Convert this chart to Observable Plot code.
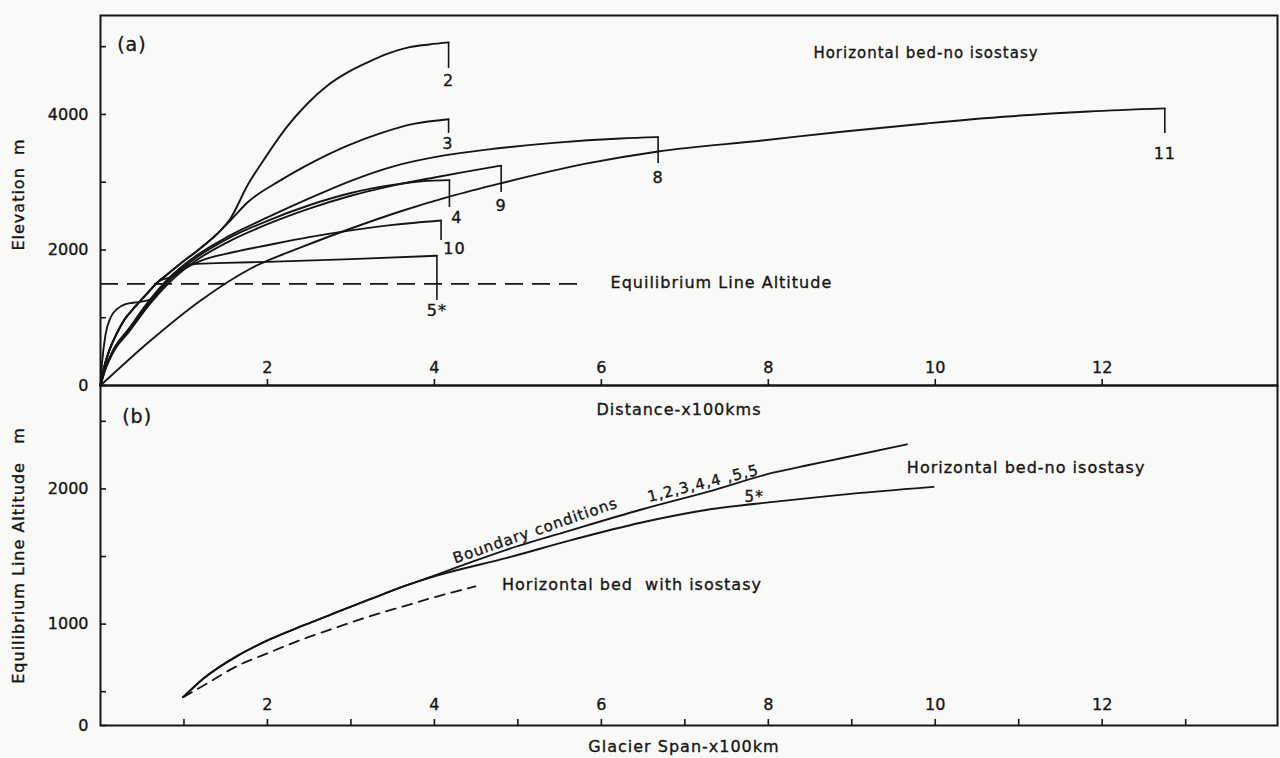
<!DOCTYPE html>
<html><head><meta charset="utf-8">
<script src="https://cdn.jsdelivr.net/npm/d3@7"></script>
<script src="https://cdn.jsdelivr.net/npm/@observablehq/plot@0.6"></script>
<style>
body{margin:0;background:#f9faf8;}
#wrap{position:relative;width:1280px;height:758px;background:#f9faf8;overflow:hidden;}
#wrap svg{position:absolute;left:0;}
#wrap g[aria-label="text"] text{letter-spacing:1px;}
#wrap g[aria-label$="tick label"] text{stroke:#151515;stroke-width:0.35px;}
</style></head><body><div id="wrap"></div>
<script>
// ---------- Panel (a): surface profiles, distance (x100 km) vs elevation (m) ----------
const c2d=[0,0.04,0.1,0.2,0.28,0.42,0.56,0.7,0.75,0.96,1.16,1.44,1.557,1.76,1.976,2.228,2.48,2.72,2.96,3.2,3.45,3.69,3.94,4.17];
const c2e=[0,250,500,780,960,1170,1360,1540,1590,1800,1990,2290,2465,2952,3366,3808,4162,4428,4620,4768,4900,4989,5033,5063];
const c3d=[0,0.04,0.1,0.2,0.28,0.42,0.56,0.7,0.75,0.96,1.16,1.44,1.56,1.76,2.16,2.55,2.96,3.35,3.75,4.17];
const c3e=[0,250,500,780,960,1170,1360,1540,1590,1800,1990,2290,2440,2700,3030,3300,3540,3720,3860,3930];
const c4d=[0,0.05,0.15,0.34,0.57,0.8,1.14,1.53,2.0,2.5,3.0,3.5,3.85,4.18];
const c4e=[0,220,500,810,1200,1530,1880,2170,2430,2660,2840,2960,3015,3030];
const c8d=[0,0.05,0.15,0.34,0.57,0.8,1.14,1.53,2.0,2.5,3.0,3.5,4.12,4.63,5.43,6.23,6.68];
const c8e=[0,230,520,840,1230,1560,1910,2200,2480,2760,3020,3230,3395,3480,3580,3645,3665];
const c9d=[0,0.06,0.16,0.34,0.57,0.8,1.14,1.53,2.0,2.5,3.0,3.5,4.0,4.4,4.8];
const c9e=[0,240,510,790,1170,1490,1840,2120,2380,2610,2800,2950,3070,3160,3245];
const c10d=[0,0.04,0.1,0.2,0.28,0.42,0.56,0.7,0.87,1.0,1.2,1.6,2.0,2.5,3.0,3.5,4.08];
const c10e=[0,250,500,780,960,1170,1360,1540,1610,1720,1840,1970,2070,2190,2290,2370,2435];
const c11d=[0,0.6,1.2,1.8,2.4,3.0,3.59,4.19,4.79,5.83,6.68,7.93,8.91,9.89,10.86,11.84,12.75];
const c11e=[0,664,1255,1727,2037,2317,2568,2790,2982,3277,3454,3616,3749,3867,3970,4044,4089];
const c5sd=[0,0.02,0.06,0.12,0.2,0.3,0.45,0.6,0.8,0.95,1.1,1.5,2.0,3.0,4.03];
const c5se=[0,350,750,1000,1130,1200,1230,1270,1550,1720,1790,1810,1825,1865,1915];

const profileIds=["2","3","4","8","9","10","11","5*"];
const profileDist=[c2d,c3d,c4d,c8d,c9d,c10d,c11d,c5sd];
const profileElev=[c2e,c3e,c4e,c8e,c9e,c10e,c11e,c5se];
// terminal bar bottoms and labels
const barBottom=[4679,3720,2627,3277,2849,2140,3720,1255];
const labelDist=[4.17,4.16,4.27,6.68,4.8,4.24,12.75,4.03];
const labelElev=[4502,3572,2480,3070,2657,2022,3424,1107];

const elaLevel=[1500];
const elaExtent=[0,5.8];

const elevTicks=[0,1000,2000,3000,4000,5000];
const distTicks=[2,4,6,8,10,12];

// ---------- Panel (b): ELA vs glacier span (axis origin labelled "0") ----------
const spanBC=[0.99,1.23,1.64,2.04,2.43,2.84,3.23,3.63,4.04,4.43,4.87,5.66,6.47,7.27,8.06,8.47,8.86,9.66];
const elaBC=[460,596,765,890,990,1090,1184,1279,1368,1456,1551,1699,1846,1978,2120,2175,2225,2330];
const span5s=[0.99,1.23,1.64,2.04,2.43,2.84,3.23,3.63,4.04,4.87,5.66,6.47,7.27,8.06,8.86,9.98];
const ela5s=[460,596,765,890,990,1090,1184,1279,1360,1490,1625,1750,1846,1904,1956,2015];
const spanIso=[0.99,1.23,1.64,2.04,2.43,2.84,3.23,3.63,4.04,4.49];
const elaIso=[460,544,691,794,890,978,1059,1132,1206,1279];

const elaAxisBase=250;           // value at the axis line, printed as "0"
const elaTicks=[250,500,1000,1500,2000,2500];
const spanTicks=[1,2,3,4,5,6,7,8,9,10,11,12,13];

// ---------- build rows ----------
const ink="#151515";
const profileRows=profileIds.flatMap((id,i)=>profileDist[i].map((d,j)=>({id,d,e:profileElev[i][j]})));
const endRows=profileIds.map((id,i)=>({id,d:profileDist[i][profileDist[i].length-1],top:profileElev[i][profileElev[i].length-1],bottom:barBottom[i]}));
const labelRows=profileIds.map((t,i)=>({t,d:labelDist[i],e:labelElev[i]}));
const elaRows=elaLevel.map(e=>({e,x1:elaExtent[0],x2:elaExtent[1]}));
const bRows=(name,xs,ys)=>xs.map((x,i)=>({name,x,y:ys[i]}));
const solidRows=[...bRows("bc",spanBC,elaBC),...bRows("5*",span5s,ela5s)];
const isoRows=bRows("iso",spanIso,elaIso);

const baseStyle={fontFamily:"'DejaVu Sans', sans-serif",fontSize:"16px",background:"transparent",color:ink,overflow:"visible"};
const txt={stroke:ink,strokeWidth:0.35,fill:ink};

const topPlot=Plot.plot({
  width:1280,height:430,marginLeft:100,marginRight:3,marginTop:15,marginBottom:45,
  x:{domain:[0,14.1]},
  y:{domain:[0,5460]},
  style:baseStyle,
  marks:[
    Plot.frame({stroke:ink,strokeWidth:2}),
    Plot.axisY({ticks:elevTicks,tickSize:-6,tickPadding:18,strokeWidth:1.6,tickFormat:d=>d%2000===0?String(d):"",label:null}),
    Plot.axisX({ticks:distTicks,tickSize:-6,tickPadding:-12,lineAnchor:"middle",strokeWidth:1.6,label:null}),
    Plot.ruleY(elaRows,{y:"e",x1:"x1",x2:"x2",stroke:ink,strokeWidth:1.8,strokeDasharray:"18,9"}),
    Plot.line(profileRows,{x:"d",y:"e",z:"id",stroke:ink,strokeWidth:1.9,curve:"monotone-x"}),
    Plot.ruleX(endRows,{x:"d",y1:"top",y2:"bottom",stroke:ink,strokeWidth:1.6}),
    Plot.text(labelRows,{x:"d",y:"e",text:"t",fontSize:16,...txt}),
    Plot.text(["(a)"],{x:0.2,y:5030,textAnchor:"start",fontSize:19,...txt}),
    Plot.text(["Horizontal bed-no isostasy"],{x:8.54,y:4900,textAnchor:"start",fontSize:15,...txt}),
    Plot.text(["Equilibrium Line Altitude"],{x:6.11,y:1520,textAnchor:"start",fontSize:16,...txt}),
    Plot.text(["Distance-x100kms"],{frameAnchor:"bottom",lineAnchor:"middle",dy:24,dx:-10,fontSize:16,...txt}),
    Plot.text(["Elevation  m"],{frameAnchor:"left",textAnchor:"middle",lineAnchor:"middle",rotate:-90,dx:-82,dy:-6,fontSize:16,...txt})
  ]
});
topPlot.style.top="0px";

const bottomPlot=Plot.plot({
  width:1280,height:373,marginLeft:100,marginRight:3,marginTop:0,marginBottom:33,
  x:{domain:[0,14.1]},
  y:{domain:[elaAxisBase,2765]},
  style:baseStyle,
  marks:[
    Plot.frame({stroke:ink,strokeWidth:2}),
    Plot.axisY({ticks:elaTicks,tickSize:-6,tickPadding:18,strokeWidth:1.6,tickFormat:d=>d===elaAxisBase?"0":(d%1000===0?String(d):""),label:null}),
    Plot.axisX({ticks:spanTicks,tickSize:-6,tickPadding:-15,lineAnchor:"middle",strokeWidth:1.6,tickFormat:d=>d%2===0?String(d):"",label:null}),
    Plot.line(solidRows,{x:"x",y:"y",z:"name",stroke:ink,strokeWidth:1.9,curve:"monotone-x"}),
    Plot.line(isoRows,{x:"x",y:"y",stroke:ink,strokeWidth:1.8,strokeDasharray:"10,7",curve:"monotone-x"}),
    Plot.text(["(b)"],{x:0.26,y:2529,textAnchor:"start",fontSize:19,...txt}),
    Plot.text(["Boundary conditions"],{x:5.21,y:1691,rotate:-19,fontSize:15,...txt}),
    Plot.text(["1,2,3,4,4 ,5,5"],{x:7.22,y:2040,rotate:-14,fontSize:15,...txt}),
    Plot.text(["5*"],{x:7.83,y:1941,fontSize:15,...txt}),
    Plot.text(["Horizontal bed-no isostasy"],{x:9.66,y:2154,textAnchor:"start",fontSize:16,...txt}),
    Plot.text(["Horizontal bed  with isostasy"],{x:4.81,y:1287,textAnchor:"start",fontSize:16,...txt}),
    Plot.text(["Glacier Span-x100km"],{frameAnchor:"bottom",lineAnchor:"middle",dy:21,dx:-5,fontSize:16,...txt}),
    Plot.text(["Equilibrium Line Altitude   m"],{frameAnchor:"left",textAnchor:"middle",lineAnchor:"middle",rotate:-90,dx:-82,fontSize:16,...txt})
  ]
});
bottomPlot.style.top="385px";

const wrap=document.getElementById("wrap");
wrap.appendChild(topPlot);
wrap.appendChild(bottomPlot);
</script></body></html>
